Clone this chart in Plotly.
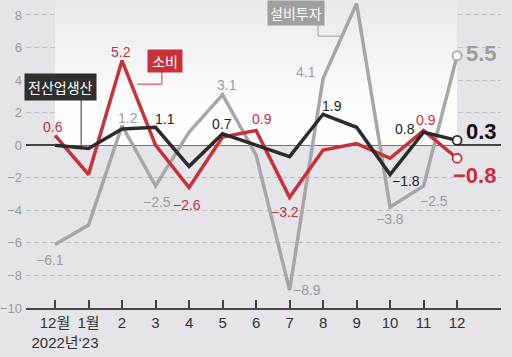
import plotly.graph_objects as go

# ---- data ----
months = ["12월<br>2022년", "1월<br>‘23", "2", "3", "4", "5", "6", "7", "8", "9", "10", "11", "12"]
production = [0.0, -0.2, 1.0, 1.1, -1.3, 0.7, 0.0, -0.7, 1.9, 1.1, -1.8, 0.8, 0.3]
retail = [0.6, -1.8, 5.2, 0.0, -2.6, 0.5, 0.9, -3.2, -0.3, 0.1, -0.8, 0.9, -0.8]
investment = [-6.1, -4.9, 1.2, -2.5, 0.8, 3.1, -0.6, -8.9, 4.1, 8.7, -3.8, -2.5, 5.5]
y_ticks = [-10, -8, -6, -4, -2, 0, 2, 4, 6, 8]

# labelled points: (index, xshift, yshift)
inv_labels = [(0, -5, -15), (2, 6, 8), (3, 1, -16), (5, 4, 10), (7, 17, 0), (8, -17, 6), (10, 0, -12), (11, 10, -15)]
ret_labels = [(0, -2, 8), (2, -1, 9), (4, -2, -17), (6, 6, 12), (7, -5, -15), (11, 2, 11)]
prod_labels = [(3, 9, 8), (5, -1, 10), (8, 9, 8), (10, 16, -6), (11, -19, 3)]

RED = "#c8313a"
GRAY = "#a6a6a6"
BLACK = "#2b2b2b"
GRAYTXT = "#9c9c9c"
NUMFONT = "Liberation Sans, Arial, Noto Sans CJK KR"
KRFONT = "Noto Sans CJK KR"

x = list(range(len(months)))
YTOP = 8.92


def fmt(v):
    s = f"{v:.1f}"
    return s.replace("-", "\u2212")


fig = go.Figure()

# light backdrop panel above zero line (white near zero, greyer toward the top)
fig.add_trace(go.Scatter(
    x=[x[0], x[-1], x[-1], x[0], x[0]], y=[0, 0, YTOP, YTOP, 0],
    fill="toself", mode="lines", line=dict(width=0),
    fillgradient=dict(type="vertical", start=0, stop=YTOP,
                      colorscale=[[0, "#ffffff"], [0.3, "#fcfcfd"], [1, "#eaeaee"]]),
    hoverinfo="skip", showlegend=False))

for vals, col in [(investment, GRAY), (retail, RED), (production, BLACK)]:
    fig.add_trace(go.Scatter(x=x, y=vals, mode="lines", line=dict(color=col, width=3.5),
                             showlegend=False, hoverinfo="skip"))
    fig.add_trace(go.Scatter(x=[x[-1]], y=[vals[-1]], mode="markers",
                             marker=dict(size=9, color="white", line=dict(color=col, width=1.8)),
                             showlegend=False, hoverinfo="skip"))

annotations = []
for vals, labs, col in [(investment, inv_labels, GRAYTXT), (retail, ret_labels, RED), (production, prod_labels, "#222222")]:
    for i, xs, ys in labs:
        annotations.append(dict(x=x[i], y=vals[i], text=fmt(vals[i]), showarrow=False,
                                xshift=xs, yshift=ys,
                                font=dict(family=NUMFONT, size=14, color=col)))

# big end labels
for vals, col, xs, ys in [(investment, GRAYTXT, 24, 2), (production, "#111111", 24, 9), (retail, RED, 17, -17)]:
    annotations.append(dict(x=x[-1], y=vals[-1], text=fmt(vals[-1]), showarrow=False,
                            xshift=xs, yshift=ys,
                            font=dict(family=NUMFONT, size=22, color=col, weight="bold")))

# series name boxes
annotations += [
    dict(x=0.17, y=3.55, text="전산업생산", showarrow=False, bgcolor="#2f2f2f", borderpad=3,
         font=dict(family=KRFONT, size=14, color="white")),
    dict(x=3.28, y=5.16, text=" 소비 ", showarrow=False, bgcolor=RED, borderpad=1,
         font=dict(family=KRFONT, size=14, color="white")),
    dict(x=7.2, y=8.1, text="설비투자", showarrow=False, bgcolor="#a0a0a0", borderpad=2,
         font=dict(family=KRFONT, size=14, color="white")),
]

shapes = [
    dict(type="line", x0=0.78, x1=0.78, y0=2.83, y1=0, line=dict(color="#2f2f2f", width=1)),
    dict(type="line", x0=3.19, x1=3.19, y0=4.6, y1=3.75, line=dict(color=RED, width=1)),
    dict(type="line", x0=3.19, x1=2.45, y0=3.75, y1=3.75, line=dict(color=RED, width=1)),
    dict(type="line", x0=7.85, x1=7.85, y0=7.49, y1=6.7, line=dict(color="#a0a0a0", width=1)),
    dict(type="line", x0=7.85, x1=8.54, y0=6.7, y1=6.7, line=dict(color="#a0a0a0", width=1)),
]

fig.update_layout(
    width=512, height=357, autosize=False,
    margin=dict(l=26, r=11, t=0, b=49),
    paper_bgcolor="#e4e4e9", plot_bgcolor="rgba(0,0,0,0)",
    annotations=annotations, shapes=shapes,
    showlegend=False,
)
fig.update_xaxes(range=[-0.866, 13.31], tickmode="array", tickvals=x, ticktext=months,
                 tickangle=0, automargin=False,
                 showgrid=False, zeroline=False, showline=True, linecolor="#444444", linewidth=2,
                 ticks="inside", ticklen=8, tickwidth=1.5, tickcolor="#444444",
                 tickfont=dict(family=NUMFONT, size=15, color="#333333"), fixedrange=True)
fig.update_yaxes(range=[-10, YTOP], tickmode="array", tickvals=y_ticks,
                 ticktext=[fmt(v).replace(".0", "") for v in y_ticks],
                 automargin=False,
                 showgrid=True, gridcolor="#bdbdc2", gridwidth=1, griddash="5px,3px",
                 zeroline=True, zerolinecolor="#444444", zerolinewidth=1.5,
                 showline=False, ticks="", ticklabelstandoff=3,
                 tickfont=dict(family=NUMFONT, size=13, color="#9a9a9a"), fixedrange=True)

fig.write_html("out.html", config={"displayModeBar": False},
               post_script="document.body.style.margin='0';")
